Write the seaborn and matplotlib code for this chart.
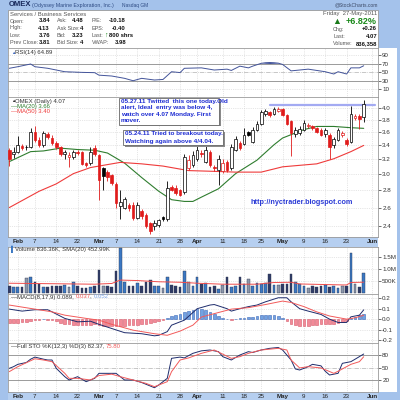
import matplotlib
matplotlib.use("Agg")
import matplotlib.pyplot as plt
from matplotlib.patches import Rectangle
from matplotlib.ticker import NullLocator
import pandas as pd
import seaborn as sns

sns.set_style("white")
plt.rcParams['font.family'] = ['Liberation Sans', 'DejaVu Sans']

# trading days on the chart, 28-Jan-2011 .. 27-May-2011 (+ a few empty days at the right)
holidays = pd.to_datetime(["2011-02-21", "2011-04-22", "2011-05-30"])
days = pd.bdate_range("2011-01-28", "2011-06-03")
days = days[~days.isin(holidays)]

tick_dates = ["2011-02-01", "2011-02-07", "2011-02-14", "2011-02-22", "2011-03-01", "2011-03-07",
              "2011-03-14", "2011-03-21", "2011-03-28", "2011-04-01", "2011-04-11", "2011-04-18",
              "2011-04-25", "2011-05-02", "2011-05-09", "2011-05-16", "2011-05-23", "2011-06-01"]
tick_text = ["Feb", "7", "14", "22", "Mar", "7", "14", "21", "28", "Apr", "11", "18", "25",
             "May", "9", "16", "23", "Jun"]
months = ["Feb", "Mar", "Apr", "May", "Jun"]

opens = [3.34, 3.27, 3.31, 3.39, 3.38, 3.38, 3.60, 3.48, 3.41, 3.57, 3.51, 3.44, 3.37, 3.27, 3.23,
         3.24, 3.31, 3.30, 3.15, 3.15, 3.36, 3.26, 3.09, 3.03, 2.99, 2.88, 2.62, 2.60, 2.63, 2.63,
         2.49, 2.56, 2.52, 2.43, 2.40, 2.41, 2.50, 2.47, 2.84, 2.83, 2.80, 2.78, 3.09, 3.12, 3.20,
         3.29, 3.17, 3.31, 3.10, 3.06, 3.04, 3.17, 3.08, 3.34, 3.43, 3.42, 3.60, 3.45, 3.64, 3.73,
         3.90, 3.93, 3.90, 3.94, 3.98, 3.88, 3.77, 3.57, 3.58, 3.64, 3.69, 3.69, 3.66, 3.64, 3.57,
         3.56, 3.41, 3.48, 3.55, 3.48, 3.45, 3.83, 3.86, 3.84]
highs = [3.36, 3.37, 3.54, 3.42, 3.40, 3.66, 3.70, 3.52, 3.62, 3.60, 3.55, 3.46, 3.39, 3.34, 3.30,
         3.33, 3.33, 3.32, 3.17, 3.38, 3.40, 3.28, 3.10, 3.06, 3.01, 2.90, 2.81, 2.72, 2.65, 2.66,
         2.66, 2.58, 2.54, 2.44, 2.46, 2.48, 2.51, 2.91, 2.86, 2.86, 2.82, 3.27, 3.26, 3.32, 3.41,
         3.33, 3.41, 3.34, 3.13, 3.26, 3.20, 3.19, 3.42, 3.54, 3.46, 3.66, 3.62, 3.68, 3.77, 3.96,
         3.98, 3.95, 4.01, 4.02, 4.00, 3.90, 3.79, 3.68, 3.70, 3.79, 3.75, 3.72, 3.68, 3.66, 3.67,
         3.58, 3.53, 3.67, 3.62, 3.51, 4.03, 3.90, 3.90, 4.13]
lows = [3.11, 3.22, 3.29, 3.33, 3.34, 3.36, 3.45, 3.37, 3.38, 3.50, 3.40, 3.35, 3.25, 3.20, 3.10,
        3.20, 3.26, 3.12, 3.10, 3.13, 3.25, 2.69, 2.81, 2.92, 2.87, 2.60, 2.48, 2.58, 2.56, 2.46,
        2.47, 2.48, 2.38, 2.32, 2.36, 2.39, 2.45, 2.45, 2.79, 2.75, 2.73, 2.76, 3.06, 3.10, 3.18,
        3.24, 3.15, 3.10, 3.05, 2.86, 3.02, 3.03, 3.06, 3.32, 3.33, 3.40, 3.54, 3.43, 3.62, 3.71,
        3.86, 3.84, 3.88, 3.92, 3.86, 3.71, 3.25, 3.52, 3.55, 3.62, 3.66, 3.64, 3.58, 3.54, 3.53,
        3.21, 3.36, 3.46, 3.52, 3.39, 3.43, 3.80, 3.65, 3.76]
closes = [3.20, 3.31, 3.41, 3.36, 3.37, 3.61, 3.48, 3.40, 3.58, 3.53, 3.43, 3.38, 3.28, 3.31, 3.26,
          3.30, 3.29, 3.14, 3.12, 3.31, 3.27, 2.93, 2.98, 2.97, 2.89, 2.65, 2.66, 2.70, 2.59, 2.49,
          2.63, 2.51, 2.40, 2.35, 2.43, 2.46, 2.47, 2.83, 2.81, 2.77, 2.75, 3.23, 3.19, 3.26, 3.34,
          3.27, 3.34, 3.13, 3.08, 3.21, 3.15, 3.06, 3.37, 3.49, 3.36, 3.55, 3.56, 3.64, 3.73, 3.93,
          3.94, 3.88, 3.98, 3.97, 3.88, 3.73, 3.58, 3.63, 3.65, 3.74, 3.72, 3.66, 3.61, 3.56, 3.64,
          3.37, 3.49, 3.64, 3.58, 3.42, 3.90, 3.86, 3.81, 4.07]
# volume in millions of shares
volume = [0.31, 0.25, 0.24, 0.24, 0.61, 0.68, 0.48, 0.37, 0.24, 0.24, 0.30, 0.30, 0.28, 0.35, 0.24,
          0.48, 0.31, 0.21, 0.21, 0.24, 0.28, 0.96, 0.31, 0.28, 0.24, 0.92, 1.87, 0.48, 0.28, 0.28,
          0.41, 0.31, 0.45, 0.54, 0.28, 0.28, 0.21, 0.65, 0.35, 0.28, 0.24, 0.90, 0.48, 0.28, 0.68,
          0.37, 0.41, 0.24, 0.31, 0.17, 0.33, 0.65, 0.24, 0.31, 0.65, 0.37, 0.57, 0.28, 0.41, 0.37,
          0.41, 0.80, 0.33, 0.33, 0.37, 0.37, 0.78, 0.48, 0.37, 0.28, 0.21, 0.28, 0.24, 0.28, 0.33,
          0.24, 0.28, 0.21, 0.28, 0.31, 1.64, 0.37, 0.24, 0.836]
macd_hist = [-0.04, -0.04, -0.035, -0.03, -0.03, -0.02, -0.01, -0.005, 0.0, -0.005, -0.01,
             -0.02, -0.035, -0.045, -0.05, -0.055, -0.055, -0.06, -0.06, -0.055, -0.05,
             -0.06, -0.065, -0.065, -0.065, -0.07, -0.07, -0.065, -0.06, -0.06, -0.055, -0.05,
             -0.045, -0.035, -0.025, -0.02, -0.01, 0.01, 0.03, 0.04, 0.05, 0.07, 0.08, 0.09, 0.10,
             0.10, 0.09, 0.07, 0.05, 0.03, 0.01, 0.0, -0.01, 0.005, 0.01,
             0.015, 0.02, 0.025, 0.03, 0.035, 0.04, 0.04, 0.035, 0.03, 0.01,
             -0.02, -0.045, -0.06, -0.07, -0.07, -0.065, -0.06, -0.055, -0.05, -0.045,
             -0.05, -0.045, -0.035, -0.025, -0.015, 0.01, 0.025, 0.035, 0.052]

# indicator lines at a number of days
rsi_day = [0, 2, 5, 6, 9, 13, 17, 20, 21, 24, 27, 29, 31, 34, 36, 38, 40, 41, 45, 48, 51, 52, 54,
           56, 57, 59, 60, 61, 62, 63, 64, 66, 68, 70, 72, 74, 76, 77, 79, 80, 82, 83]
rsi_val = [59, 62.7, 69, 62.7, 59, 51, 49.5, 48.8, 43, 41, 35.6, 30, 35.6, 31.7, 33, 51, 49, 59, 60,
           55, 57, 54, 64, 60, 64, 70.6, 72, 72.5, 72, 71, 68, 53, 55, 57, 54, 51, 45.7, 51, 45.7,
           60, 60, 64.89]
ma20_day = [0, 5, 8, 12, 16, 20, 23, 27, 31, 35, 38, 41, 43, 45, 49, 53, 58, 62, 64, 69, 72, 76, 80, 83]
ma20_val = [3.17, 3.31, 3.32, 3.36, 3.34, 3.33, 3.29, 3.15, 2.96, 2.79, 2.69, 2.67, 2.67, 2.72, 2.82,
            3.01, 3.19, 3.41, 3.51, 3.64, 3.69, 3.69, 3.67, 3.66]
ma50_day = [0, 7, 11, 15, 19, 22, 26, 31, 36, 42, 48, 53, 59, 64, 68, 72, 76, 80, 83]
ma50_val = [2.60, 2.79, 2.88, 3.01, 3.09, 3.12, 3.16, 3.14, 3.11, 3.05, 3.04, 3.03, 3.03, 3.10, 3.12,
            3.14, 3.21, 3.31, 3.40]
vol_sma_day = [0, 20, 24, 26, 30, 35, 40, 44, 50, 58, 62, 66, 68, 78, 79, 80, 83]
vol_sma_val = [0.41, 0.37, 0.40, 0.54, 0.52, 0.47, 0.45, 0.41, 0.37, 0.37, 0.44, 0.45, 0.38, 0.34,
               0.34, 0.44, 0.453]
macd_day = [0, 3, 6, 9, 10, 13, 16, 19, 21, 24, 27, 31, 34, 35, 37, 38, 41, 44, 47, 48, 51, 52, 54,
            56, 58, 60, 63, 65, 66, 68, 70, 73, 75, 77, 79, 80, 82, 83]
macd_val = [0.096, 0.077, 0.09, 0.09, 0.07, 0.007, -0.026, -0.02, -0.05, -0.09, -0.13, -0.14, -0.16,
            -0.155, -0.12, -0.058, -0.01, 0.10, 0.135, 0.14, 0.10, 0.077, 0.10, 0.12, 0.135, 0.166,
            0.205, 0.205, 0.166, 0.10, 0.077, 0.045, 0.0, -0.032, -0.032, 0.022, 0.038, 0.089]
signal_day = [0, 6, 10, 13, 18, 21, 24, 29, 34, 37, 40, 43, 45, 52, 56, 60, 64, 66, 69, 72, 75, 79, 81, 83]
signal_val = [0.135, 0.096, 0.07, 0.038, 0.007, -0.01, -0.05, -0.106, -0.14, -0.155, -0.115, -0.058,
              0.02, 0.096, 0.11, 0.14, 0.173, 0.16, 0.12, 0.07, 0.03, 0.0, 0.013, 0.037]
sto_k_day = [0, 1, 2, 4, 5, 6, 8, 9, 10, 11, 13, 14, 16, 18, 20, 21, 24, 25, 27, 29, 31, 34, 35, 37,
             38, 40, 41, 43, 45, 47, 49, 50, 52, 54, 56, 57, 59, 61, 63, 64, 66, 67, 68, 70, 71, 73,
             74, 75, 77, 78, 80, 81, 83]
sto_k_val = [48, 52, 57.6, 62, 70, 75, 70, 68, 68, 48, 28, 20, 28, 16, 24, 36, 36, 36, 20, 20, 14, 1.5,
             8, 24, 72, 75, 73, 84, 90, 92, 88, 76, 68, 80, 88, 86, 92, 96, 98, 92, 68, 46.5, 44, 52,
             57.6, 54, 41, 32, 36, 60, 64, 70, 82.37]
sto_d_day = [0, 2, 6, 8, 10, 13, 14, 16, 19, 21, 24, 26, 29, 32, 34, 37, 38, 40, 42, 45, 48, 50, 52,
             54, 56, 59, 63, 65, 66, 68, 70, 73, 76, 77, 80, 82, 83]
sto_d_val = [40, 52, 71, 68, 64, 36, 24, 24, 20, 30.7, 34, 28, 20, 12, 4, 16, 40, 68, 73, 84, 92, 82,
             72, 76, 84, 92, 96, 92, 68, 49, 52, 49, 36, 41, 57.6, 64, 75.8]

# resistance line drawn by the author
resist_level = 4.04
resist_from = "2011-04-27"

W = H = 400.0
OUTER = "#a4c2eb"
STRIP = "#b6cff0"
NAVY = "#1e2c6c"
RED = "#e01b1b"
GRID = "#cfcfcf"

fig = plt.figure(figsize=(4, 4), dpi=100, facecolor=OUTER)


def fx(x):
    return x / W


def fy(y):
    return 1 - y / H


def box(x0, y0, x1, y1, **kw):
    r = Rectangle((fx(x0), fy(y1)), (x1 - x0) / W, (y1 - y0) / H, transform=fig.transFigure, **kw)
    fig.add_artist(r)
    return r


def txt(x, y, s, size=4.5, **kw):
    kw.setdefault("va", "center")
    kw.setdefault("color", "#333333")
    return fig.text(fx(x), fy(y), s, fontsize=size, **kw)


tick_pos = [days.get_loc(pd.Timestamp(d)) for d in tick_dates]
n = len(closes)
xs = list(range(n))


def panel(y0, y1, xlabels=False):
    ax = fig.add_axes([fx(8), fy(y1), 370 / W, (y1 - y0) / H])
    ax.set_facecolor("white")
    for s in ax.spines.values():
        s.set_color("#9a9a9a")
        s.set_linewidth(0.6)
    ax.set_xlim(-0.3, 86.35)
    ax.yaxis.tick_right()
    ax.tick_params(axis="y", length=2, width=0.5, pad=1, labelsize=4.5, colors="#333333")
    ax.tick_params(axis="x", length=0, pad=1.5, labelsize=4.5, colors="#222222")
    ax.set_xticks(tick_pos)
    if xlabels:
        ax.set_xticklabels(tick_text)
        for lab in ax.get_xticklabels():
            if lab.get_text() in months:
                lab.set_fontweight("bold")
    else:
        ax.set_xticklabels([])
    ax.grid(True, linestyle=":", linewidth=0.5, color=GRID)
    return ax


# backgrounds
box(8, 48, 397, 392, facecolor="white", edgecolor="none", zorder=-5)
box(8, 10, 378, 48, facecolor="white", edgecolor="#9a9a9a", linewidth=0.6, zorder=-4)
box(8, 237, 378, 247, facecolor=STRIP, edgecolor="none", zorder=-4)
box(8, 392, 378, 400, facecolor=STRIP, edgecolor="none", zorder=-4)

# title line and quote header
txt(9, 5, "OMEX", size=5.5, fontweight="bold", color="#17285a")
txt(32, 5.3, "(Odyssey Marine Exploration, Inc.)", size=3.8, color="#2d4a82")
txt(122, 5.3, "Nasdaq GM", size=3.5, color="#2d4a82")
txt(378, 5.3, "@StockCharts.com", size=3.6, ha="right", color="#3d4a66")

LBL = 3.9
VAL = 4.2
txt(10, 14, "Services / Business Services", size=4.2, color="#555555")
rows = [(21, "Open:", "3.84", "Ask:", "4.48", "P/E:", "-10.18"),
        (28, "High:", "4.13", "Ask Size:", "4", "EPS:", "-0.40"),
        (35.5, "Low:", "3.76", "Bid:", "3.23", "Last:", ""),
        (43, "Prev Close:", "3.81", "Bid Size:", "4", "VWAP:", "3.98")]
for y, l1, v1, l2, v2, l3, v3 in rows:
    txt(10, y, l1, size=LBL, color="#555555")
    txt(50, y, v1, size=VAL, ha="right", fontweight="bold", color="#111111")
    txt(57, y, l2, size=LBL, color="#555555")
    txt(83, y, v2, size=VAL, ha="right", fontweight="bold", color="#111111")
    txt(92, y, l3, size=LBL, color="#555555")
    txt(126, y, v3, size=VAL, ha="right", fontweight="bold", color="#111111")
txt(104, 35.5, "\u2191", size=5.0, fontweight="bold", color="#1a8a1a")
txt(133, 35.5, "800 shrs", size=VAL, ha="right", fontweight="bold", color="#111111")

txt(377, 14, "Friday  27-May-2011", size=4.2, ha="right", color="#555555")
txt(332, 22, "\u25b2", size=6.5, color="#1a7a1a")
txt(377, 21.5, "+6.82%", size=6.5, ha="right", fontweight="bold", color="#1a8a1a")
for y, lab, val in [(29, "Chg:", "+0.26"), (36, "Last:", "4.07"), (43.5, "Volume:", "836,358")]:
    txt(333, y, lab, size=LBL, color="#555555")
    txt(377, y, val, size=VAL, ha="right", fontweight="bold", color="#111111")

# ---- RSI panel
ax_rsi = panel(48, 97)
ax_rsi.set_ylim(-7.9, 106.3)
ax_rsi.set_yticks([10, 30, 50, 70, 90])
ax_rsi.grid(False, axis="y")
for lvl in [10, 90]:
    ax_rsi.axhline(lvl, color=GRID, linestyle=":", linewidth=0.5)
ax_rsi.axhline(50, color="#b0b0b0", linestyle="-.", linewidth=0.5)
for lvl in [30, 70]:
    ax_rsi.axhline(lvl, color="#9a9a9a", linewidth=0.7)
sns.lineplot(x=rsi_day, y=rsi_val, ax=ax_rsi, color="#43549a", linewidth=0.7)
ax_rsi.fill_between(rsi_day, rsi_val, 70, where=[v > 70 for v in rsi_val], interpolate=True,
                    color="#43549a", linewidth=0)
txt(11, 52.5, "\u25b2", size=3.2, color="#3d68c0")
txt(15, 52.5, "RSI(14) 64.89", size=4.3)

# ---- price panel
ax_p = panel(97, 237, xlabels=True)
ax_p.set_yscale("log")
ax_p.set_ylim(2.29, 4.19)
price_ticks = [2.4, 2.6, 2.8, 3.0, 3.2, 3.4, 3.6, 3.8, 4.0]
ax_p.set_yticks(price_ticks)
ax_p.set_yticklabels([f"{t:.1f}" for t in price_ticks])
ax_p.yaxis.set_minor_locator(NullLocator())

prev = [closes[0] + 0.1] + closes[:-1]
edge_cols = [RED if c < p else "black" for c, p in zip(closes, prev)]
face_cols = ["white" if c > o else e for c, o, e in zip(closes, opens, edge_cols)]
ax_p.vlines(xs, lows, highs, colors=edge_cols, linewidth=0.6, zorder=3)
ax_p.bar(xs, [max(abs(c - o), 0.004) for c, o in zip(closes, opens)],
         bottom=[min(c, o) for c, o in zip(closes, opens)], width=0.62,
         color=face_cols, edgecolor=edge_cols, linewidth=0.5, zorder=4)
sns.lineplot(x=ma20_day, y=ma20_val, ax=ax_p, color="#2f7d2f", linewidth=0.8, zorder=2)
sns.lineplot(x=ma50_day, y=ma50_val, ax=ax_p, color="#ef3b3b", linewidth=0.8, zorder=2)
r0 = days.get_loc(pd.Timestamp(resist_from))
ax_p.plot([r0, 85.7], [resist_level, resist_level], color="#a3aaf2", linewidth=1.6, zorder=1)

txt(11, 101.5, "\u25b2", size=3.2, color="#333333")
txt(15, 101.5, "OMEX (Daily) 4.07", size=4.3)
txt(11, 106.5, "\u2014MA(20) 3.66", size=4.3, color="#2f7d2f")
txt(11, 111.5, "\u2014MA(50) 3.40", size=4.3, color="#ef3b3b")

# author notes
NOTE = "#1f2dd2"
box(120.5, 99.5, 220.5, 126.5, facecolor="#8a8a8a", edgecolor="none", zorder=4)
box(119, 98, 219, 125, facecolor="white", edgecolor="#666666", linewidth=0.6, zorder=4)
for y, s in [(101.5, "05.27.11 Twitted  this one today.Old"), (108, "alert, Ideal  entry was below 4,"),
             (114.5, "watch over 4.07 Monday. First"), (121, "mover.")]:
    txt(121, y, s, size=4.6, fontweight="bold", color=NOTE, zorder=5)
box(124.5, 131.5, 224.5, 146.5, facecolor="#8a8a8a", edgecolor="none", zorder=4)
box(123, 130, 223, 145, facecolor="white", edgecolor="#666666", linewidth=0.6, zorder=4)
for y, s in [(134, "05.24.11 Tried to breakout today."), (141, "Watching again above 4/4.04.")]:
    txt(125, y, s, size=4.6, fontweight="bold", color=NOTE, zorder=5)
txt(302, 203, "http://nyctrader.blogspot.com", size=5.2, ha="center", fontweight="bold", color="#2b3bd6")

# ---- volume panel
ax_v = panel(247, 294)
ax_v.set_ylim(-0.033, 1.90)
ax_v.set_yticks([0.5, 1.0, 1.5])
ax_v.set_yticklabels(["500K", "1.0M", "1.5M"])
vol_cols = []
for c, o, p in zip(closes, opens, prev):
    if c >= p and c > o:
        vol_cols.append("#3b78c3")
    elif c < p and c <= o:
        vol_cols.append("#2f3b66")
    else:
        vol_cols.append("#8d97aa")
ax_v.bar(xs, volume, width=0.62, color=vol_cols, edgecolor="#303a55", linewidth=0.3, zorder=3)
sns.lineplot(x=vol_sma_day, y=vol_sma_val, ax=ax_v, color="#ef4b4b", linewidth=0.7, zorder=4)
txt(11, 249.5, "\u258c", size=4, color="#3b78c3")
txt(15, 249.5, "Volume 836.36K, SMA(20) 452.99K", size=4.3)

# ---- MACD panel
ax_m = panel(294, 343)
ax_m.set_ylim(-0.229, 0.241)
ax_m.set_yticks([-0.2, -0.1, 0.0, 0.1, 0.2])
ax_m.set_yticklabels(["-0.2", "-0.1", "0.0", "0.1", "0.2"])
hist_face = ["#72a2e2" if h >= 0 else "#f28a98" for h in macd_hist]
hist_edge = ["#3d68b8" if h >= 0 else "#d65a6a" for h in macd_hist]
ax_m.bar(xs, macd_hist, width=0.62, color=hist_face, edgecolor=hist_edge, linewidth=0.4, zorder=2)
sns.lineplot(x=macd_day, y=macd_val, ax=ax_m, color=NAVY, linewidth=0.7, zorder=3)
sns.lineplot(x=signal_day, y=signal_val, ax=ax_m, color="#f25a5a", linewidth=0.7, zorder=3)
t = txt(11, 297, "\u2014MACD(8,17,9) 0.089, ", size=4.3)
t = ax_m.annotate("0.037", xy=(1, 0), xycoords=t, va="bottom", fontsize=4.3, color="#f25a5a",
                  annotation_clip=False)
t = ax_m.annotate(", ", xy=(1, 0), xycoords=t, va="bottom", fontsize=4.3, color="#333333",
                  annotation_clip=False)
ax_m.annotate("0.052", xy=(1, 0), xycoords=t, va="bottom", fontsize=4.3, color="#7fa6e6",
              annotation_clip=False)

# ---- full stochastics panel
ax_s = panel(343, 392, xlabels=True)
ax_s.set_ylim(-8.8, 108.8)
ax_s.set_yticks([20, 50, 80])
ax_s.grid(False, axis="y")
ax_s.axhline(50, color="#b0b0b0", linestyle="-.", linewidth=0.5)
for lvl in [20, 80]:
    ax_s.axhline(lvl, color="#9a9a9a", linewidth=0.7)
sns.lineplot(x=sto_k_day, y=sto_k_val, ax=ax_s, color=NAVY, linewidth=0.7)
sns.lineplot(x=sto_d_day, y=sto_d_val, ax=ax_s, color="#f25a5a", linewidth=0.7)
t = txt(11, 346.5, "\u2014Full STO %K(12,3) %D(3) 82.37, ", size=4.3)
ax_s.annotate("75.80", xy=(1, 0), xycoords=t, va="bottom", fontsize=4.3, color="#f25a5a",
              annotation_clip=False)

for a in [ax_rsi, ax_p, ax_v, ax_m, ax_s]:
    a.set_xlabel("")
    a.set_ylabel("")

fig.savefig("out.png", dpi=100, facecolor=fig.get_facecolor())
